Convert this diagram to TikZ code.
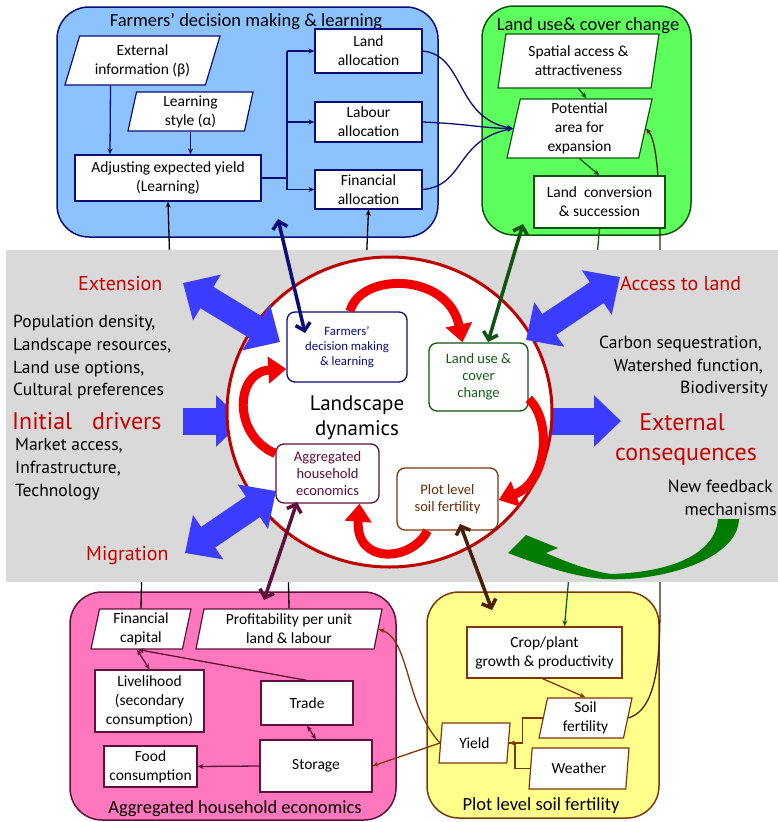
\documentclass[tikz,border=0pt]{standalone}
\usepackage{fontspec}
\setmainfont{Carlito}
\newfontfamily\sidefont{PT Sans}
\usetikzlibrary{arrows.meta,shapes.geometric,calc}

\definecolor{panelblue}{RGB}{140,195,255}
\definecolor{navy}{RGB}{12,12,120}
\definecolor{panelgreen}{RGB}{92,255,92}
\definecolor{dkgreen}{RGB}{15,85,15}
\definecolor{panelpink}{RGB}{255,120,190}
\definecolor{plum}{RGB}{95,15,60}
\definecolor{panelyellow}{RGB}{255,255,140}
\definecolor{brownline}{RGB}{125,55,10}
\definecolor{dkbrown}{RGB}{75,30,5}
\definecolor{bandgray}{RGB}{217,217,217}
\definecolor{bigblue}{RGB}{60,60,255}
\definecolor{labelred}{RGB}{200,0,0}
\definecolor{ringred}{RGB}{192,0,0}
\definecolor{flowred}{RGB}{240,0,0}
\definecolor{feedgreen}{RGB}{0,125,0}
\definecolor{textgreen}{RGB}{20,95,20}
\definecolor{textbrown}{RGB}{105,45,5}

\newcommand{\bxfont}{\fontsize{15.5}{19}\selectfont}
\newcommand{\ttlfont}{\fontsize{18.5}{22}\selectfont}
\newcommand{\sidetxt}{\sidefont\fontsize{17.5}{21}\selectfont}
\newcommand{\sidered}{\sidefont\fontsize{20}{24}\selectfont\color{labelred}}
\newcommand{\bigred}{\sidefont\fontsize{24}{30}\selectfont\color{labelred}}

\pgfdeclarelayer{panels}
\pgfdeclarelayer{wires}
\pgfdeclarelayer{band}
\pgfsetlayers{panels,wires,band,main}

\tikzset{
  panel/.style={line width=1.5pt, rounded corners=32pt},
  ttl/.style={anchor=base, inner sep=0pt, font=\ttlfont},
  box/.style={draw, fill=white, rectangle, line width=1.2pt, align=center,
    inner sep=1pt, font=\bxfont},
  para/.style={draw, fill=white, trapezium, trapezium left angle=76,
    trapezium right angle=104, trapezium stretches body, line width=1.2pt,
    align=center, inner sep=1pt, font=\bxfont},
  inbox/.style={draw, fill=white, rectangle, rounded corners=8pt,
    line width=1.3pt, align=center, inner sep=1pt},
  wire/.style={line width=1.3pt},
  tip/.style={-{Stealth[length=6pt,width=5pt]}},
  tips/.style={{Stealth[length=6pt,width=5pt]}-{Stealth[length=6pt,width=5pt]}},
  bigdouble/.style={line width=25pt, bigblue,
    {Triangle[width=52pt,length=28pt]}-{Triangle[width=52pt,length=28pt]}},
  bigsingle/.style={line width=27pt, bigblue, -{Triangle[width=50pt,length=27pt]}},
  flow/.style={line width=9pt, flowred, -{Triangle[width=26pt,length=18pt]}},
  link/.style={line width=3.5pt,
    {Straight Barb[length=7pt,width=15pt]}-{Straight Barb[length=7pt,width=15pt]}},
  sidel/.style={anchor=base west, inner sep=0pt},
  sider/.style={anchor=base east, inner sep=0pt},
}

\begin{document}
\begin{tikzpicture}[x=1pt,y=-1pt]
\useasboundingbox (0,0) rectangle (778,822);

% ---------- four sub-model panels ----------
\begin{pgfonlayer}{panels}
  \draw[panel, draw=navy, fill=panelblue] (57,7) rectangle (438,237);
  \draw[panel, draw=dkgreen, fill=panelgreen] (482,6) rectangle (691,235);
  \draw[panel, draw=plum, fill=panelpink] (70,592) rectangle (396,820);
  \draw[panel, draw=brownline, fill=panelyellow] (427,592) rectangle (659,818);
\end{pgfonlayer}

\node[ttl] (ttl-farm) at (246,26) {Farmers' decision making \& learning};
\node[ttl] (ttl-land) at (588,30) {Land use\& cover change};
\node[ttl] (ttl-hh) at (235,813) {Aggregated household economics};
\node[ttl] (ttl-plot) at (541,810) {Plot level soil fertility};

% farmers' decision making
\begin{scope}[every node/.append style={draw=navy}]
  \node[para, trapezium left angle=67, trapezium right angle=113,
        minimum width=155pt, minimum height=49pt] (extinfo) at (142.5,60.5) {External\\information (β)};
  \node[para, minimum width=125pt, minimum height=39pt] (lstyle) at (190.5,111.5) {Learning\\style (α)};
  \node[box, minimum width=186pt, minimum height=46pt] (adjust) at (168,178) {Adjusting expected yield\\(Learning)};
  \node[box, minimum width=107pt, minimum height=44pt] (landalloc) at (368.5,51) {Land\\allocation};
  \node[box, minimum width=107pt, minimum height=40pt] (labour) at (368.5,122) {Labour\\allocation};
  \node[box, minimum width=107pt, minimum height=39pt] (finalloc) at (368.5,189.5) {Financial\\allocation};
\end{scope}
\coordinate (jtop) at (287,51);
\coordinate (jbot) at (287,189.5);
\begin{scope}[navy, wire]
  \draw[tip] ([xshift=-32pt]extinfo.south) -- ([xshift=-58pt]adjust.north);
  \draw[tip] (lstyle.south) -- (lstyle.south |- adjust.north);
  \draw (adjust.east) -- (adjust.east -| jtop);
  \draw (jtop) -- (jbot);
  \draw[tip] (jtop) -- (landalloc.west);
  \draw[tip] (jtop |- labour.west) -- (labour.west);
  \draw[tip] (jbot) -- (finalloc.west);
\end{scope}

% land use and cover change
\begin{scope}[every node/.append style={draw=dkgreen}]
  \node[para, minimum width=161pt, minimum height=54pt] (spatial) at (578.5,61) {Spatial access \&\\attractiveness};
  \node[para, minimum width=145pt, minimum height=59pt] (potential) at (579.5,128.5) {Potential\\area for\\expansion};
  \node[box, minimum width=131pt, minimum height=52pt] (landconv) at (599.5,202) {Land\ \ conversion\\\& succession};
\end{scope}
\begin{scope}[dkgreen, wire]
  \draw[tip] (spatial.south) -- ([xshift=7pt]potential.north);
  \draw[tip] (potential.south) -- (landconv.north);
\end{scope}
\begin{scope}[navy, wire]
  \draw[tip] (landalloc.east) .. controls (465,55) and (455,118) .. (potential.west);
  \draw[tip] (labour.east) .. controls (470,124) and (480,128) .. (potential.west);
  \draw[tip] (finalloc.east) .. controls (465,186) and (455,140) .. (potential.west);
\end{scope}

% aggregated household economics
\begin{scope}[every node/.append style={draw=plum}]
  \node[para, minimum width=100pt, minimum height=40pt] (fincap) at (141,629) {Financial\\capital};
  \node[para, minimum width=186pt, minimum height=40pt] (profit) at (289,629) {Profitability per unit\\land \& labour};
  \node[box, minimum width=109pt, minimum height=62pt] (livelihood) at (149.5,701) {Livelihood\\(secondary\\consumption)};
  \node[box, minimum width=92pt, minimum height=44pt] (trade) at (307,703) {Trade};
  \node[box, minimum width=112pt, minimum height=52pt] (storage) at (316,766) {Storage};
  \node[box, minimum width=93pt, minimum height=41pt] (food) at (150.5,766.5) {Food\\consumption};
\end{scope}
\begin{scope}[plum, wire]
  \draw[tips] ([xshift=-4pt]fincap.south) -- (livelihood.north);
  \draw[tip] (trade.north) -- ([xshift=-3pt]fincap.south);
  \draw[tips] (trade.south) -- (storage.north);
  \draw[tip] (storage.west) -- (food.east);
\end{scope}

% plot level soil fertility
\begin{scope}[every node/.append style={draw=brownline}]
  \node[box, minimum width=155pt, minimum height=51pt] (crop) at (544.5,652.5) {Crop/plant\\growth \& productivity};
  \node[para, minimum width=93pt, minimum height=40pt] (soil) at (585.5,718) {Soil\\fertility};
  \node[para, minimum width=100pt, minimum height=41pt] (weather) at (579,768.5) {Weather};
  \node[para, minimum width=71pt, minimum height=40pt] (yield) at (474.5,743) {Yield};
\end{scope}
\begin{scope}[brownline, wire]
  \draw[tip] ([xshift=-2pt]crop.south) -- (soil.north);
  \draw[tip] (soil.west) -- ++(-20,0) |- (yield.east);
  \draw (weather.west) -- ++(-15,0) |- (yield.east);
  \draw[tip] (yield.west) -- (storage.east);
  \draw[tip] (yield.west) .. controls (405,705) and (410,640) .. (profit.east);
\end{scope}

% long links between the sub-models, partly hidden by the band
\begin{pgfonlayer}{wires}
  \draw[wire, black, tip] (fincap.north) -- (142,560) -- (170,270) -- (adjust.south);
  \draw[wire, black, tip] (profit.north) -- (288,560) -- (366,270) -- (finalloc.south);
  \draw[wire, textgreen, tip] (landconv.south) -- ([xshift=20pt]crop.north);
  \draw[wire, dkbrown, tip] (soil.east) .. controls (662,708) and (660,640) .. (660,580)
     -- (660,250) .. controls (660,175) and (656,140) .. (potential.east);
\end{pgfonlayer}

% ---------- landscape band ----------
\begin{pgfonlayer}{band}
  \fill[bandgray] (6,250) rectangle (778,582);
\end{pgfonlayer}

% drivers and consequences entering / leaving the landscape
\coordinate (drvA) at (183,421);
\coordinate (drvB) at (243,421);
\coordinate (csqA) at (548,421);
\coordinate (csqB) at (621,421);
\draw[bigsingle] (drvA) -- (drvB);
\draw[bigsingle] (csqA) -- (csqB);

\node[ellipse, draw=ringred, line width=3pt, fill=white,
      minimum width=325pt, minimum height=310pt, inner sep=0pt] (ring) at (389.5,412) {};

\coordinate (extA) at (183,283);
\coordinate (extB) at (280,342);
\coordinate (migA) at (185,553);
\coordinate (migB) at (276,491);
\coordinate (accA) at (526,340);
\coordinate (accB) at (620,277);
\draw[bigdouble] (extA) -- (extB);
\draw[bigdouble] (migA) -- (migB);
\draw[bigdouble] (accA) -- (accB);

% landscape dynamics: the four sub-models in a loop
\node[inbox, draw=navy, text=navy, minimum width=120pt, minimum height=70pt,
      font=\fontsize{12.8}{15}\selectfont] (cfarm) at (347,347) {Farmers'\\decision making\\\& learning};
\node[inbox, draw=dkgreen, text=textgreen, minimum width=99pt, minimum height=68pt,
      font=\fontsize{14.5}{17}\selectfont] (cland) at (478.5,377) {Land use \&\\cover\\change};
\node[inbox, draw=plum, text=plum, minimum width=103pt, minimum height=59pt,
      font=\fontsize{14.5}{16.7}\selectfont] (chh) at (327.5,473.5) {Aggregated\\household\\economics};
\node[inbox, draw=brownline, text=textbrown, minimum width=101pt, minimum height=62pt,
      font=\fontsize{14.5}{17}\selectfont] (cplot) at (447.5,499) {Plot level\\soil fertility};
\node[align=center, font=\sidefont\fontsize{21}{25}\selectfont] (ldyn) at (357,418) {Landscape\\dynamics};

\draw[flow] ([xshift=3pt]cfarm.north) .. controls (360,272) and (448,272) .. ([xshift=-16pt]cland.north);
\draw[flow] ([yshift=-22pt]cland.east) .. controls (552,420) and (548,482) .. ([yshift=-1pt]cplot.east);
\draw[flow] ([xshift=-20pt]cplot.south) .. controls (412,562) and (355,565) .. ([xshift=32pt]chh.south);
\draw[flow] ([yshift=20pt]chh.west) .. controls (232,435) and (235,372) .. ([yshift=-22pt]cfarm.west);

% links between the loop and the sub-model panels
\coordinate (nvA) at (278,219);
\coordinate (nvB) at (305,333);
\coordinate (grA) at (523,224);
\coordinate (grB) at (488,342);
\coordinate (plA) at (297,502);
\coordinate (plB) at (264,600);
\coordinate (brA) at (460,524);
\coordinate (brB) at (492,610);
\draw[link, navy] (nvA) -- (nvB);
\draw[link, dkgreen] (grA) -- (grB);
\draw[link, plum] (plA) -- (plB);
\draw[link, dkbrown] (brA) -- (brB);

% new feedback mechanisms: tapered curved arrow back into the landscape
\fill[feedgreen] (739,519) .. controls (738,560) and (660,582) .. (605,579)
  .. controls (575,577) and (545,567) .. (508,553)
  -- (526,535) -- (558,548) -- (546,553)
  .. controls (575,566) and (600,573) .. (612,574)
  .. controls (670,572) and (715,555) .. (718,519) -- cycle;

% labels on the left
\node[sidel, font=\sidered] (lbl-ext) at (78,290) {Extension};
\node[sidel, font=\sidetxt] (drv1) at (13,327) {Population density,};
\node[sidel, font=\sidetxt] (drv2) at (13,350) {Landscape resources,};
\node[sidel, font=\sidetxt] (drv3) at (13,373) {Land use options,};
\node[sidel, font=\sidetxt] (drv4) at (13,395) {Cultural preferences};
\node[sidel, font=\bigred] (lbl-init) at (12,429) {Initial\hspace{20pt}drivers};
\node[sidel, font=\sidetxt] (drv5) at (15,450) {Market access,};
\node[sidel, font=\sidetxt] (drv6) at (15,473) {Infrastructure,};
\node[sidel, font=\sidetxt] (drv7) at (15,496) {Technology};
\node[sidel, font=\sidered] (lbl-mig) at (86,560) {Migration};

% labels on the right
\node[sidel, font=\sidered] (lbl-acc) at (620,290) {Access to land};
\node[sider, font=\sidetxt] (csq1) at (762,348) {Carbon sequestration,};
\node[sider, font=\sidetxt] (csq2) at (763,371) {Watershed function,};
\node[sider, font=\sidetxt] (csq3) at (768,393) {Biodiversity};
\node[anchor=base, inner sep=0pt, font=\bigred] (lbl-csq1) at (682,430) {External};
\node[anchor=base, inner sep=0pt, font=\bigred] (lbl-csq2) at (686,460) {consequences};
\node[sider, font=\sidetxt] (fb1) at (773,492) {New feedback};
\node[sider, font=\sidetxt] (fb2) at (777,515) {mechanisms};

\end{tikzpicture}
\end{document}
